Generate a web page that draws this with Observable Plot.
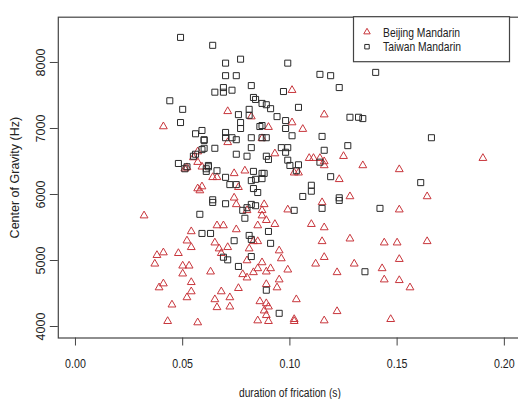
<!DOCTYPE html>
<html><head><meta charset="utf-8">
<script src="https://cdn.jsdelivr.net/npm/d3@7"></script>
<script src="https://cdn.jsdelivr.net/npm/@observablehq/plot@0.6"></script>
<style>
body{margin:0;background:#fff}
#chart svg{display:block}
</style>
</head><body><div id="chart"></div>
<script>
const seriesNames = ["Beijing Mandarin", "Taiwan Mandarin"];
const xTicks = [0, 0.05, 0.10, 0.15, 0.20];
const yTicks = [4000, 5000, 6000, 7000, 8000];
const xTitle = "duration of frication (s)";
const yTitle = "Center of Gravity (Hz)";

// Beijing Mandarin: duration (s), centre of gravity (Hz)
const beijingDur = [0.032,0.041,0.054,0.052,0.054,0.041,0.038,0.037,0.048,0.050,0.053,0.050,0.054,0.041,0.039,0.054,0.052,0.045,0.043,0.057,
0.051,0.052,0.057,0.057,0.055,0.057,0.059,0.064,0.066,0.059,0.058,0.074,0.079,0.102,0.104,0.123,0.076,0.074,0.128,0.101,
0.071,0.082,0.116,0.090,0.101,0.106,0.071,0.087,0.093,0.109,0.111,0.114,0.125,0.134,0.116,0.116,0.151,0.190,0.164,0.151,
0.144,0.150,0.164,0.151,0.143,0.144,0.151,0.156,0.147,0.075,0.088,0.087,0.080,0.099,0.115,0.066,0.069,0.075,0.087,0.089,
0.093,0.085,0.110,0.116,0.085,0.065,0.067,0.071,0.068,0.080,0.087,0.091,0.085,0.083,0.078,0.080,0.089,0.095,0.096,0.099,
0.095,0.094,0.089,0.063,0.076,0.068,0.072,0.065,0.072,0.066,0.086,0.089,0.088,0.090,0.085,0.090,0.089,0.102,0.102,0.116,
0.122,0.103,0.112,0.116,0.122,0.130,0.128,0.115,0.083,0.081];
const beijingCog = [5680,7030,5440,5300,5200,5120,5080,4950,5110,4920,4920,4800,4670,4650,4590,4530,4440,4330,4080,4060,
6390,6410,6090,6650,6560,6490,6420,6260,6260,6120,6060,6320,6360,6330,6330,6230,6110,5950,5970,7580,
7260,7180,7210,7020,7090,6990,6790,6850,6620,6550,6550,6550,6580,6440,6500,6440,6380,6550,5970,5770,
5270,5270,5290,5020,4880,4710,4700,4590,4110,5850,5850,5760,5760,5770,5880,5530,5530,5470,5680,5610,
5550,5530,5550,5500,5290,5270,5180,5200,5110,5000,4970,4880,4880,4820,4790,4740,4830,5150,5030,4860,
4710,4590,4640,4830,4580,4530,4440,4410,4300,4290,4380,4350,4240,4300,4090,4080,4170,4080,4110,4090,
4230,4410,4950,5050,4820,4950,5330,5290,5290,5180];

// Taiwan Mandarin: duration (s), centre of gravity (Hz)
const taiwanDur = [0.049,0.044,0.050,0.049,0.064,0.070,0.077,0.099,0.070,0.075,0.114,0.119,0.140,0.082,0.123,0.065,0.069,0.069,0.073,0.097,
0.083,0.084,0.087,0.089,0.091,0.104,0.076,0.081,0.081,0.094,0.128,0.132,0.134,0.077,0.077,0.086,0.087,0.098,0.098,0.101,
0.070,0.070,0.073,0.075,0.082,0.087,0.089,0.115,0.127,0.082,0.096,0.099,0.060,0.060,0.065,0.116,0.075,0.080,0.089,0.090,
0.098,0.099,0.100,0.104,0.114,0.062,0.061,0.066,0.083,0.087,0.088,0.103,0.119,0.070,0.082,0.084,0.087,0.072,0.075,0.083,
0.085,0.106,0.110,0.110,0.123,0.064,0.056,0.059,0.060,0.048,0.052,0.055,0.056,0.059,0.051,0.061,0.062,0.166,0.161,0.142,
0.135,0.064,0.058,0.070,0.078,0.080,0.082,0.084,0.102,0.115,0.123,0.079,0.090,0.059,0.063,0.074,0.081,0.082,0.091,0.069,
0.071,0.082,0.076,0.089,0.095];
const taiwanCog = [8380,7420,7290,7090,8260,7990,8050,7990,7800,7800,7820,7800,7850,7650,7620,7550,7550,7620,7580,7560,
7470,7440,7380,7360,7300,7320,7210,7290,7200,7180,7170,7170,7150,7090,7000,7030,7045,7120,7000,6890,
6940,6860,6860,6830,6860,6860,6860,6880,6740,6710,6710,6710,6820,6700,6700,6670,6610,6580,6580,6530,
6640,6520,6440,6450,6490,6440,6350,6360,6350,6320,6320,6360,6270,6260,6210,6230,6240,6150,6150,6090,
6030,5970,6140,6050,5950,5920,6920,6970,6830,6470,6420,6580,6610,6680,6390,6390,6420,6860,6180,5790,
4830,5880,5700,5860,5760,5800,5850,5830,5760,5790,5910,5640,5440,5410,5410,5300,5380,5320,5260,5050,
5010,5060,4910,4550,4200];

const beijing = beijingDur.map((d, i) => ({dur: d, cog: beijingCog[i]}));
const taiwan = taiwanDur.map((d, i) => ({dur: d, cog: taiwanCog[i]}));

const red = "#c8363c";
const dark = "#2a2a2a";
const font = "'Liberation Sans',Arial,sans-serif";
const squeeze = 0.82; // horizontal text in the reference is condensed
const fmtX = d3.format(".2f");

const chart = Plot.plot({
  width: 518,
  height: 399,
  marginLeft: 57.8,
  marginRight: -3,
  marginTop: 16.7,
  marginBottom: 61.5,
  style: {fontFamily: font, color: "#222", background: "#fff"},
  x: {domain: [-0.008, 0.208], label: null},
  y: {domain: [3826, 8686], label: null},
  marks: [
    Plot.frame({stroke: "#444", strokeWidth: 1.2}),
    Plot.axisX({ticks: xTicks, tickFormat: fmtX, tickSize: 8, tickPadding: 13, label: null,
      fontSize: 13, stroke: "#444", color: "#222"}),
    Plot.axisY({ticks: yTicks, tickSize: 8, tickFormat: () => "", label: null, stroke: "#444"}),
    Plot.text(yTicks, {y: d => d, text: d => String(d), frameAnchor: "left", dx: -17, rotate: -90,
      textAnchor: "middle", lineAnchor: "middle", fontSize: 12.5, fill: "#222"}),
    Plot.text([xTitle], {frameAnchor: "bottom", dy: 54.5, text: d => d, textAnchor: "middle", lineAnchor: "middle",
      fontSize: 12.5, fill: "#222"}),
    Plot.text([yTitle], {frameAnchor: "left", dx: -43, rotate: -90, text: d => d, textAnchor: "middle",
      lineAnchor: "middle", fontSize: 12.5, fill: "#222"}),
    Plot.dot(beijing, {x: "dur", y: "cog", symbol: "triangle", r: 2.9, stroke: red, strokeWidth: 1, fill: "none"}),
    Plot.dot(taiwan, {x: "dur", y: "cog", symbol: "square", r: 3.4, stroke: dark, strokeWidth: 1, fill: "none"})
  ]
});
document.getElementById("chart").appendChild(chart);

const svg = d3.select(chart);
// condense horizontal texts (x tick labels and x title) around their anchor point
const squeezeTexts = new Set([xTitle, ...xTicks.map(fmtX)]);
svg.selectAll("text").each(function() {
  if (!squeezeTexts.has(this.textContent.trim())) return;
  const t = this.getAttribute("transform") || "";
  const x = this.getAttribute("x");
  this.setAttribute("transform", t + ` scale(${squeeze},1)`);
  if (x) this.setAttribute("x", +x / squeeze);
});

// legend box (top right, inside the plot frame)
const lg = svg.append("g");
lg.append("rect").attr("x", 353.5).attr("y", 16.7).attr("width", 156).attr("height", 45)
  .attr("fill", "#fff").attr("stroke", "#444").attr("stroke-width", 1.2);
const items = [{name: seriesNames[0], sym: d3.symbolTriangle, size: 18, col: red},
               {name: seriesNames[1], sym: d3.symbolSquare, size: 20, col: dark}];
items.forEach((it, i) => {
  const cy = 32 + i * 14.7;
  lg.append("path").attr("d", d3.symbol(it.sym, it.size)()).attr("transform", `translate(367,${cy})`)
    .attr("fill", "none").attr("stroke", it.col).attr("stroke-width", 1);
  lg.append("text").attr("transform", `translate(383,${cy + 4.5}) scale(${squeeze},1)`)
    .attr("text-anchor", "start").attr("font-family", font)
    .attr("font-size", 12.6).attr("fill", "#222").text(it.name);
});
</script>
</body></html>
